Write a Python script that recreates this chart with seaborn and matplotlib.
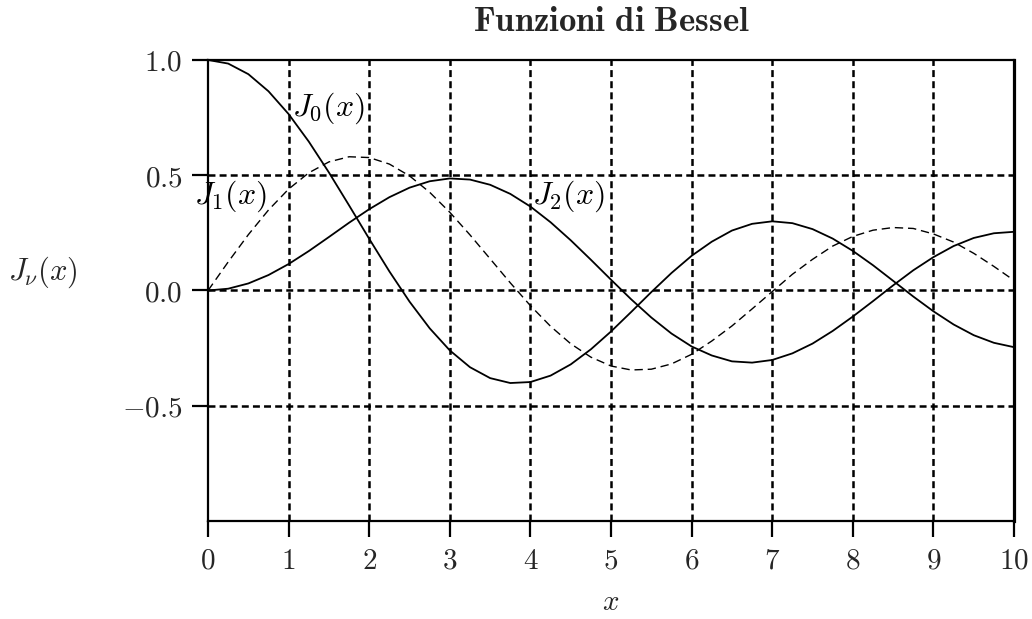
import matplotlib
matplotlib.use("Agg")
import matplotlib.pyplot as plt
import seaborn as sns
import pandas as pd

# Tabulated Bessel function values, step 0.25 on [0, 10]
x_vals = [0.0, 0.25, 0.5, 0.75, 1.0, 1.25, 1.5, 1.75, 2.0, 2.25, 2.5, 2.75,
          3.0, 3.25, 3.5, 3.75, 4.0, 4.25, 4.5, 4.75, 5.0, 5.25, 5.5, 5.75,
          6.0, 6.25, 6.5, 6.75, 7.0, 7.25, 7.5, 7.75, 8.0, 8.25, 8.5, 8.75,
          9.0, 9.25, 9.5, 9.75, 10.0]

j0_vals = [1.0, 0.9844, 0.9385, 0.8642, 0.7652, 0.6459, 0.5118, 0.3690,
           0.2239, 0.0827, -0.0484, -0.1641, -0.2601, -0.3328, -0.3801,
           -0.4014, -0.3971, -0.3692, -0.3205, -0.2551, -0.1776, -0.0931,
           -0.0068, 0.0760, 0.1506, 0.2118, 0.2601, 0.2892, 0.3001, 0.2921,
           0.2663, 0.2252, 0.1717, 0.1096, 0.0419, -0.0262, -0.0903,
           -0.1474, -0.1939, -0.2269, -0.2459]

j1_vals = [0.0, 0.1240, 0.2423, 0.3492, 0.4401, 0.5106, 0.5579, 0.5802,
           0.5767, 0.5484, 0.4971, 0.4260, 0.3391, 0.2411, 0.1374, 0.0332,
           -0.0660, -0.1555, -0.2311, -0.2892, -0.3276, -0.3448, -0.3414,
           -0.3185, -0.2767, -0.2191, -0.1538, -0.0799, -0.0047, 0.0704,
           0.1352, 0.1927, 0.2346, 0.2616, 0.2731, 0.2691, 0.2453, 0.2101,
           0.1613, 0.1045, 0.0435]

j2_vals = [0.0, 0.0078, 0.0306, 0.0671, 0.1149, 0.1711, 0.2321, 0.2941,
           0.3528, 0.4048, 0.4461, 0.4739, 0.4861, 0.4812, 0.4586, 0.4191,
           0.3641, 0.2960, 0.2178, 0.1333, 0.0466, -0.0383, -0.1173,
           -0.1868, -0.2429, -0.2819, -0.3074, -0.3129, -0.3014, -0.2727,
           -0.2303, -0.1755, -0.1130, -0.0462, 0.0223, 0.0877, 0.1448,
           0.1928, 0.2279, 0.2483, 0.2546]

x_ticks = [0, 1, 2, 3, 4, 5, 6, 7, 8, 9, 10]
y_ticks = [1.0, 0.5, 0.0, -0.5]

curve_labels = [r"$J_0(x)$", r"$J_1(x)$", r"$J_2(x)$"]
label_pos = [(1.04, 0.79), (-0.18, 0.41), (4.02, 0.41)]

sns.set_theme(style="white")
plt.rcParams["mathtext.fontset"] = "cm"
plt.rcParams["font.family"] = ["DejaVu Serif"]
plt.rcParams["lines.scale_dashes"] = False
plt.rcParams["lines.solid_joinstyle"] = "round"

fig = plt.figure(figsize=(10.32, 6.19), dpi=100)
ax = fig.add_axes([0.2016, 0.1583, 0.7810, 0.7448])

df = pd.DataFrame({"x": x_vals, "J0": j0_vals, "J1": j1_vals, "J2": j2_vals})

sns.lineplot(data=df, x="x", y="J0", ax=ax, color="black", lw=1.3)
sns.lineplot(data=df, x="x", y="J1", ax=ax, color="black", lw=1.0,
             linestyle=(0, (6, 3.5)))
sns.lineplot(data=df, x="x", y="J2", ax=ax, color="black", lw=1.3)

ax.set_xlim(0, 10)
ax.set_ylim(-1, 1)
ax.set_xticks(x_ticks)
ax.set_yticks(y_ticks)
ax.set_xticklabels([f"${t}$" for t in x_ticks])
ax.set_yticklabels([f"${t:.1f}$" for t in y_ticks])

ax.grid(True, color="black", lw=1.8, linestyle=(0, (5, 3)))
ax.set_axisbelow(True)

# grid lines that coincide with the frame are covered by the solid border
xgrid = ax.xaxis.get_gridlines()
xgrid[0].set_visible(False)
xgrid[-1].set_visible(False)
ax.yaxis.get_gridlines()[0].set_visible(False)

for side in ["left", "bottom", "top"]:
    ax.spines[side].set_color("black")
    ax.spines[side].set_linewidth(1.6)
ax.spines["right"].set_color("black")
ax.spines["right"].set_linewidth(2.3)

ax.tick_params(axis="both", which="major", direction="out", length=11.5,
               width=1.6, color="black", labelsize=21, pad=7,
               bottom=True, left=True)

for lbl, (lx, ly) in zip(curve_labels, label_pos):
    ax.text(lx, ly, lbl, fontsize=23, ha="left", va="center", color="black")

ax.set_xlabel(r"$x$", fontsize=21)
ax.xaxis.label.set_va("center")
ax.xaxis.set_label_coords(0.5, -0.176)
ax.set_ylabel(r"$J_\nu(x)$", fontsize=22, rotation=0, labelpad=0)
ax.yaxis.set_label_coords(-0.205, 0.5)
ax.set_title(r"$\mathbf{Funzioni\ di\ Bessel}$", fontsize=25, pad=21)

fig.savefig("out.png", dpi=100)
